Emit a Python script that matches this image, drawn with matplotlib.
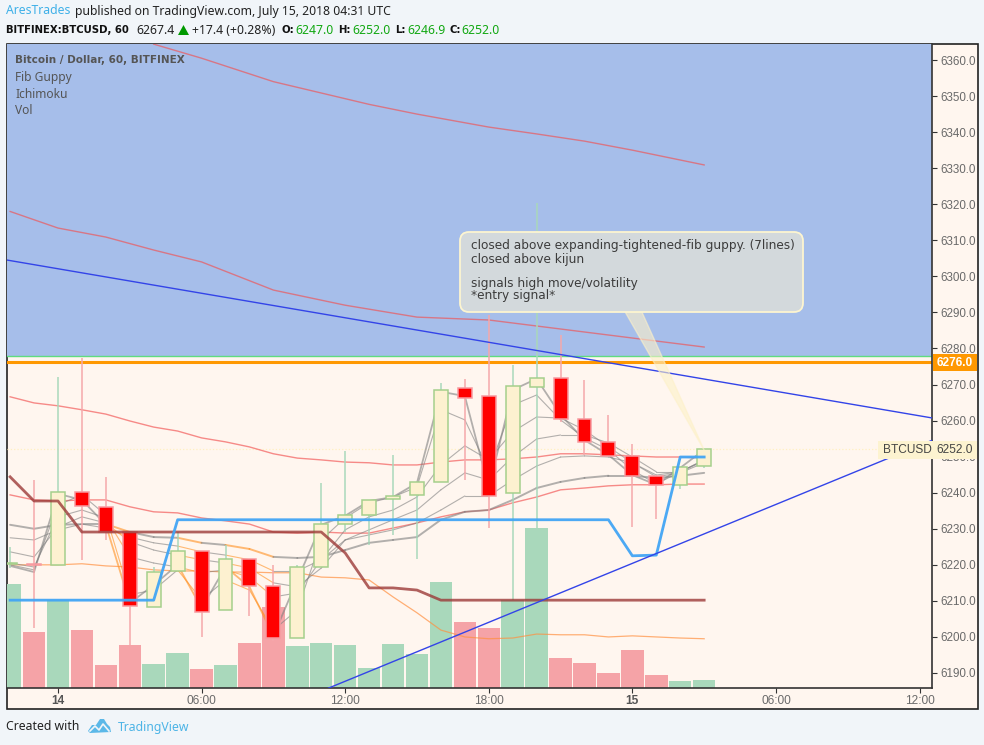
# BTCUSD hourly chart with guppy, ichimoku and volume
import numpy as np
import matplotlib
matplotlib.use('Agg')
import matplotlib.pyplot as plt
from matplotlib.patches import FancyBboxPatch, Polygon, Rectangle
from matplotlib.transforms import Affine2D

plt.rcParams['font.family'] = ['Noto Sans', 'DejaVu Sans']

hours = list(range(-2, 28))
opens = [6220.2, 6220.3, 6220, 6240.3, 6235.9, 6229.2, 6208.4, 6218.2, 6223.9, 6207.4,
         6221.5, 6214, 6199.6, 6219.3, 6231.2, 6233.7, 6238.2, 6239.3, 6242.9, 6269,
         6266.7, 6240, 6269.2, 6271.7, 6260.5, 6254, 6250.1, 6244.6, 6242, 6247.3]
closes = [6220.5, 6220, 6240.3, 6236.3, 6229.2, 6208.7, 6218.1, 6223.8, 6207, 6221.5,
          6214, 6199.6, 6219.3, 6231.2, 6233.7, 6237.9, 6239, 6242.9, 6268.4, 6266.2,
          6239.2, 6269.5, 6271.7, 6260.5, 6254, 6250.1, 6244.6, 6242, 6247.2, 6252.2]
highs = [6225, 6243.5, 6272.2, 6277.4, 6244.4, 6229.2, 6219.5, 6229.2, 6223.9, 6225.5,
         6221.5, 6220, 6220, 6242.8, 6251.6, 6237.9, 6250.5, 6242.9, 6270.5, 6271.5,
         6289.3, 6275.4, 6320.3, 6283.7, 6271.3, 6261.5, 6253.5, 6244.6, 6247.2, 6252.2]
lows = [6219, 6202.5, 6220, 6221.3, 6226.9, 6197.8, 6208.4, 6218.2, 6200, 6207.4,
        6205.9, 6199, 6199.6, 6219.3, 6229.2, 6225.5, 6228.3, 6221.5, 6242.9, 6243.5,
        6230.3, 6210, 6230, 6259.7, 6250.5, 6250.1, 6230.6, 6232.7, 6241, 6246.9]
volume = [104, 56, 88, 58, 23, 43, 24, 35, 19, 23, 45, 81, 42, 45, 43,
          20, 44, 34, 106, 66, 60, 88, 160, 30, 25, 15, 38, 13, 7, 8]

ma_a_hours = [4, 6, 9, 13, 15, 18, 20, 22, 24, 27]
ma_a = [6364.4, 6360.5, 6354, 6347.7, 6345, 6341.4, 6339.5, 6337.5, 6335, 6330.9]
ma_b_hours = [-2, 0, 2, 4, 6, 9, 12, 15, 18, 21, 27]
ma_b = [6318, 6313.4, 6310.9, 6307.3, 6304, 6296.2, 6292, 6288.7, 6287.9, 6285.4, 6280.4]
ma_c = [6266.6, 6264.9, 6264.1, 6263, 6261.8, 6259.9, 6258.2, 6257.1, 6255.2, 6254.1,
        6252.7, 6250.8, 6249.6, 6249.1, 6248.5, 6248.3, 6247.7, 6247.7, 6248.5, 6249.1,
        6249.1, 6249.4, 6249.9, 6250.8, 6250.8, 6250.5, 6250.2, 6249.9, 6249.9, 6249.6]
ma_d = [6239.4, 6238, 6237.7, 6238, 6238, 6236.1, 6234.7, 6234.4, 6233, 6232.2,
        6231.3, 6229.1, 6228.8, 6229.1, 6228.8, 6228.8, 6230.2, 6231.6, 6233.3, 6234.7,
        6235.2, 6237.2, 6238.8, 6240.8, 6241.3, 6241.9, 6242.2, 6242.2, 6242.4, 6242.4]
ma_e = [6220, 6220, 6220, 6220.3, 6219.7, 6219.4, 6218.6, 6218.3, 6218.3, 6218,
        6218, 6217.8, 6217.8, 6216.6, 6216.4, 6215.8, 6211.1, 6206.7, 6201.9, 6200,
        6199.5, 6199.7, 6200.8, 6200.6, 6200.6, 6200, 6200.3, 6200, 6199.7, 6199.5]
kijun = [6244.4, 6237.7, 6237.7] + [6229.1] * 11 + [6223.3, 6213.6, 6213.6, 6213] + [6210.2] * 12
tenkan = [6210.2] * 7 + [6232.5] * 19 + [6222.5, 6222.7, 6249.9, 6249.9]

guppy_1 = [6231.1, 6230, 6231.1, 6231.3, 6231.3, 6229.1, 6227.7, 6227.5, 6226.1, 6225.5,
           6224.4, 6222.2, 6221.9, 6222.2, 6224.1, 6226.1, 6226.9, 6227.7, 6232.5, 6234.7,
           6235.2, 6238, 6241.3, 6243, 6244.1, 6244.7, 6244.7, 6244.1, 6244.7, 6245.5]
guppy_2 = [6227.5, 6226.9, 6229.7, 6231.3, 6230.2, 6227.7, 6226.1, 6225.2, 6223.6, 6222.7,
           6221.4, 6218.3, 6218.3, 6221.4, 6226.9, 6228.3, 6229.7, 6231.6, 6235.2, 6239.1,
           6239.1, 6243.5, 6247.4, 6249.9, 6250.2, 6249.9, 6248.3, 6244.4, 6245.5, 6248.3]
guppy_3 = [6223.6, 6222.2, 6230.5, 6233.3, 6231.6, 6226.4, 6224.1, 6222.7, 6221.4, 6220.5,
           6219.1, 6215, 6213.9, 6219.1, 6226.9, 6229.7, 6232.5, 6235.2, 6240.8, 6245.5,
           6243.5, 6249.9, 6254.9, 6256, 6256, 6253.8, 6249.9, 6245.8, 6245.8, 6248.8]
guppy_4 = [6220.5, 6219.4, 6233.3, 6235.2, 6233, 6222.2, 6220.5, 6219.4, 6217.8, 6218.6,
           6216.6, 6211.1, 6212.2, 6221.4, 6229.7, 6233.3, 6235.2, 6238.8, 6247.7, 6253,
           6249.1, 6256.9, 6261, 6260.7, 6257.4, 6252.7, 6248.3, 6244.9, 6245.8, 6249.1]
guppy_5 = [6220, 6218.6, 6236.6, 6239.4, 6233.8, 6211.7, 6213, 6218.6, 6210.3, 6215.8,
           6213, 6201.9, 6207.5, 6226.9, 6233, 6237.2, 6238.8, 6241.6, 6263, 6260.2,
           6246.3, 6264.3, 6267.1, 6260.2, 6255.2, 6251.9, 6246.3, 6242.4, 6245.8, 6249.1]
guppy_6 = [6219.7, 6218, 6239.7, 6238, 6231.1, 6209.4, 6214.4, 6220, 6208, 6219.4,
           6213.9, 6200.3, 6215.8, 6231.1, 6233.6, 6237.7, 6238.8, 6242.7, 6268, 6266.8,
           6241.3, 6268.5, 6271.6, 6261.6, 6254.6, 6250.5, 6244.9, 6242.2, 6246.9, 6251.9]
guppy_lines = [guppy_1, guppy_2, guppy_3, guppy_4, guppy_5, guppy_6]
guppy_orange_hours = [3, 6, 8, 9]

trend_down_hours = [-2.11, 36.55]
trend_down = [6304.5, 6260.7]
trend_up_hours = [11.3, 36.55]
trend_up = [6185.8, 6254.6]
zone_edge = 6277.9
level_price = 6276.2
last_price = 6252.0

price_ticks = list(range(6190, 6361, 10))
time_ticks = [0, 6, 12, 18, 24, 30, 36]
time_labels = ['14', '06:00', '12:00', '18:00', '15', '06:00', '12:00']

note_lines = ['closed above expanding-tightened-fib guppy. (7lines)', 'closed above kijun', '',
              'signals high move/volatility', '*entry signal*']

fig = plt.figure(figsize=(9.84, 7.45), dpi=100, facecolor='#f1f5f9')
px = Affine2D().scale(1, -1).translate(0, 745)

# frame behind everything, also the background of the scales
fig.add_artist(Rectangle((7, 44), 971, 665, transform=px, fc='#fff6ef', ec='#222222', lw=1.2, zorder=0))

ax = fig.add_axes([7 / 984, 57 / 745, 925 / 984, 644 / 745])
ax.set_xlim(-2.13, 36.52)
ax.set_ylim(6185.84, 6364.44)

ax_vol = ax.twinx()
ax_vol.set_ylim(0, 644)
ax_vol.set_zorder(2)
ax.set_zorder(3)
ax.patch.set_visible(False)
ax_vol.set_facecolor('#fff6ef')
ax_vol.set_yticks([])
for side in ax_vol.spines:
    ax_vol.spines[side].set_visible(False)

up = np.array(closes) >= np.array(opens)
vol_colors = ['#a9d8bb' if u else '#f5a3a7' for u in up]
ax_vol.bar(hours, volume, width=0.94, color=vol_colors)

ax.axhspan(zone_edge, 6364.44, color='#a6beea', lw=0, zorder=0)
ax.axhline(zone_edge, color='#5fdc80', lw=1.0, zorder=1)
ax.axhline(level_price, color='#ff9800', lw=2.2, zorder=1)
ax.axhline(last_price, color='#fff0c0', lw=0.9, ls=':', zorder=1)

# moving averages
ma_style = dict(color='#f25050', alpha=0.65, lw=1.0, zorder=2)
ax.plot(ma_a_hours, ma_a, **ma_style)
ax.plot(ma_b_hours, ma_b, **ma_style)
ax.plot(hours, ma_c, **ma_style)
ax.plot(hours, ma_d, **ma_style)
ax.plot(hours, ma_e, color='#ff9040', alpha=0.7, lw=0.9, zorder=2)

# guppy, orange on the falling hours
widths = [1.4, 0.8, 0.8, 0.8, 0.8, 1.3]
for line, w in zip(guppy_lines, widths):
    for i in range(1, len(hours)):
        c = '#ff9020' if hours[i] in guppy_orange_hours else '#808080'
        ax.plot(hours[i - 1:i + 1], line[i - 1:i + 1], color=c, lw=w, alpha=0.6, zorder=3,
                solid_capstyle='round')

# candles
wick_colors = ['#a9d8bb' if u else '#f5a8ab' for u in up]
ax.vlines(hours, lows, highs, colors=wick_colors, lw=1.1, zorder=4)
bottoms = np.minimum(opens, closes)
heights = np.abs(np.array(closes) - np.array(opens))
ax.bar(hours, heights, bottom=bottoms, width=0.58,
       color=['#fdf1d0' if u else '#ff0000' for u in up],
       edgecolor=['#a5d08c' if u else '#f79aa0' for u in up], linewidth=1.1, zorder=5)

# ichimoku
ax.plot(hours, kijun, color='#9c3a38', alpha=0.8, lw=2.0, zorder=6)
ax.plot(hours, tenkan, color='#42a5f5', alpha=0.95, lw=2.0, zorder=6)

# trend lines
ax.plot(trend_down_hours, trend_down, color='#3344e8', lw=1.0, zorder=7)
ax.plot(trend_up_hours, trend_up, color='#3344e8', lw=1.0, zorder=7)

# scales
ax.yaxis.tick_right()
ax.set_yticks(price_ticks)
ax.set_yticklabels(['%.1f' % p for p in price_ticks], family='Liberation Sans', fontsize=8.4, color='#6a6a6a')
ax.set_xticks(time_ticks)
ax.set_xticklabels(time_labels, family='Liberation Sans', fontsize=8.6, color='#6a6a6a')
for lab in ax.get_xticklabels():
    if lab.get_text() in ('14', '15'):
        lab.set_fontweight('bold')
        lab.set_color('#555555')
ax.tick_params(axis='both', length=3.5, width=0.8, color='#333333', pad=2.5)
ax.tick_params(axis='x', pad=1.5)
for side in ['top', 'left']:
    ax.spines[side].set_visible(False)
ax.spines['right'].set_color('#333333')
ax.spines['bottom'].set_color('#333333')
ax.spines['right'].set_linewidth(1.2)
ax.spines['bottom'].set_linewidth(1.2)

# callout
tail_hours = [23.7, 24.4, 27]
tail_prices = [6290.1, 6290.1, 6251.8]
ax.add_patch(Polygon(list(zip(tail_hours, tail_prices)), closed=True, fc='#fdf1c8', ec='#fdf1c8',
                     alpha=0.6, lw=1, zorder=8))
fig.add_artist(FancyBboxPatch((466, 238), 331, 68, boxstyle='round,pad=6,rounding_size=9', transform=px,
                              fc='#d3d9dc', ec='#fdf5d0', lw=1.3, zorder=9))
note_y = [246, 259, 272, 283, 295]
for t, y in zip(note_lines, note_y):
    fig.text(471, y, t, transform=px, family='DejaVu Sans', fontsize=8.75, color='#3c3c3c', va='center', zorder=10)

# price labels on the scale
fig.add_artist(Rectangle((933, 354), 44, 17, transform=px, fc='#ff9800', ec='none', zorder=9))
fig.text(955, 363, '6276.0', transform=px, family='Liberation Sans', fontsize=8.6, color='white',
         fontweight='bold', ha='center', va='center', zorder=10)
fig.add_artist(Rectangle((878, 441), 99, 18, transform=px, fc='#fdf3d0', ec='none', zorder=9))
fig.text(883, 450, 'BTCUSD', transform=px, family='Liberation Sans', fontsize=8.6, color='#444444',
         va='center', zorder=10)
fig.text(955, 450, '6252.0', transform=px, family='Liberation Sans', fontsize=8.6, color='#444444',
         ha='center', va='center', zorder=10)

# legend in the pane
fig.text(15, 60, 'Bitcoin / Dollar, 60, BITFINEX', transform=px, family='DejaVu Sans', fontsize=7.5,
         fontweight='bold', color='#555555', va='center', zorder=10)
for t, y in zip(['Fib Guppy', 'Ichimoku', 'Vol'], [77, 94, 111]):
    fig.text(15, y, t, transform=px, fontsize=8.6, color='#555555', va='center', zorder=10)

# header
green = '#12a812'
head = dict(transform=px, fontsize=8.8, va='center')
bold = dict(transform=px, family='DejaVu Sans', fontsize=7.25, fontweight='bold', va='center', color='#111111')
fig.text(6, 11, 'AresTrades', color='#3eb0e8', **head)
fig.text(75, 11, 'published on TradingView.com, July 15, 2018 04:31 UTC', color='#222222', **head)
fig.text(6, 30, 'BITFINEX:BTCUSD, 60', **bold)
fig.text(136, 30, '6267.4', color='#222222', **head)
fig.add_artist(Polygon([(178, 35), (189, 35), (183.5, 25)], transform=px, fc='#009900', ec='none'))
fig.text(192, 30, '+17.4 (+0.28%)', color='#222222', **head)
for name, x1, value, x2 in [('O:', 281, '6247.0', 295), ('H:', 338, '6252.0', 352),
                            ('L:', 395, '6246.9', 407), ('C:', 449, '6252.0', 461)]:
    fig.text(x1, 30, name, **bold)
    fig.text(x2, 30, value, color=green, **head)

# footer
fig.text(6, 727, 'Created with', transform=px, fontsize=8.8, color='#222222', va='center')
fig.text(118, 727, 'TradingView', transform=px, fontsize=8.8, color='#4db4e6', va='center')
cloud = [(88, 731), (92, 725), (96, 725), (100, 719), (104, 719), (107, 724), (110, 727), (111, 732), (90, 733)]
fig.add_artist(Polygon(cloud, transform=px, fc='#5bb8e8', ec='none'))
zigzag_x = [90, 95, 99, 103, 109]
zigzag_y = [731, 726, 730, 724, 731]
fig.add_artist(plt.Line2D(zigzag_x, zigzag_y, transform=px, color='#f1f5f9', lw=1.2))

fig.savefig('out.png', dpi=100, facecolor=fig.get_facecolor())
plt.close('all')
